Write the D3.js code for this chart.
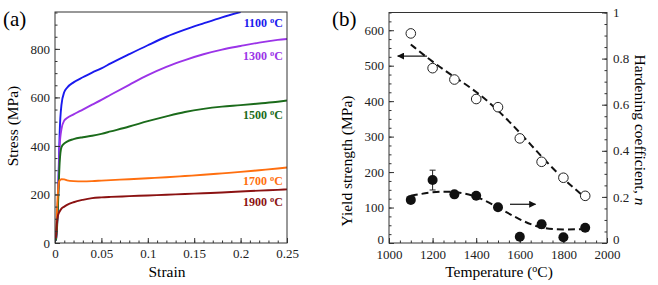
<!DOCTYPE html>
<html>
<head>
<meta charset="utf-8">
<script src="https://cdn.jsdelivr.net/npm/d3@7"></script>
<style>
  body { margin: 0; background: #fff; }
</style>
</head>
<body>
<svg id="chart" width="658" height="285"></svg>
<script>
// ---- panel (a) data: stress-strain curves
const strain = [0.001, 0.002, 0.003, 0.004, 0.005, 0.007, 0.01, 0.013, 0.02, 0.03, 0.04, 0.05, 0.06, 0.08, 0.1, 0.12, 0.14, 0.16, 0.18, 0.2, 0.22, 0.24, 0.25];
const temps = ["1100", "1300", "1500", "1700", "1900"];
const stress1100 = [10, 60, 150, 300, 450, 570, 622, 640, 662, 683, 702, 720, 740, 778, 815, 850, 879, 905, 930, 952, null, null, null];
const stress1300 = [10, 60, 150, 280, 400, 470, 505, 515, 530, 550, 570, 590, 611, 652, 692, 726, 754, 778, 797, 812, 826, 837, 841];
const stress1500 = [10, 50, 130, 240, 330, 395, 410, 418, 428, 436, 442, 450, 460, 480, 502, 522, 540, 553, 562, 568, 575, 582, 587];
const stress1700 = [20, 120, 200, 245, 258, 263, 262, 258, 255, 254, 255, 257, 259, 263, 267, 271, 276, 281, 287, 293, 300, 307, 311];
const stress1900 = [20, 80, 110, 122, 130, 142, 150, 157, 168, 178, 185, 188, 190, 193, 196, 199, 202, 205, 208, 212, 216, 219, 221];
const curveColors = ["#1a1aee", "#9b34e8", "#1b6b1b", "#ff6f0f", "#8b1212"];

// ---- panel (b) data
const temperature = [1100, 1200, 1300, 1400, 1500, 1600, 1700, 1800, 1900];
const yieldStrength = [591, 493, 461, 406, 383, 295, 229, 184, 133];
const hardeningN = [0.187, 0.273, 0.211, 0.205, 0.155, 0.027, 0.081, 0.025, 0.066];
const hardeningErr = [0, 0.043, 0, 0, 0, 0, 0.017, 0, 0];
const yieldFit = [560, 510, 468, 428, 375, 312, 243, 180, 128];
const nFit = [0.205, 0.222, 0.225, 0.205, 0.155, 0.1, 0.062, 0.058, 0.06];

const FONT = "'Liberation Serif', 'Times New Roman', serif";
const svg = d3.select("#chart").attr("font-family", FONT);
const axisColor = "#333";

function styleAxis(g) {
  g.attr("font-family", FONT);
  g.select(".domain").remove();
  g.selectAll("line").attr("stroke", axisColor);
  g.selectAll("text").attr("fill", "#222").attr("font-size", 13).attr("font-family", FONT);
}
function rng(a, b, s) { return d3.range(Math.round(a / s), Math.round(b / s) + 1).map(i => +(i * s).toFixed(4)); }

// =============== panel (a)
const A = { l: 55, r: 287, t: 12, b: 243 };
const xa = d3.scaleLinear().domain([0, 0.25]).range([A.l, A.r]);
const ya = d3.scaleLinear().domain([0, 952]).range([A.b, A.t]);

svg.append("clipPath").attr("id", "clipA").append("rect")
  .attr("x", A.l).attr("y", A.t).attr("width", A.r - A.l).attr("height", A.b - A.t);

const series = [stress1100, stress1300, stress1500, stress1700, stress1900];
const lineA = d3.line()
  .defined(d => d[1] != null)
  .x(d => xa(d[0])).y(d => ya(d[1]))
  .curve(d3.curveMonotoneX);

const gA = svg.append("g").attr("clip-path", "url(#clipA)");
series.forEach((s, i) => {
  gA.append("path")
    .datum(strain.map((e, j) => [e, s[j]]))
    .attr("d", lineA)
    .attr("fill", "none")
    .attr("stroke", curveColors[i])
    .attr("stroke-width", 1.9);
});

// minor / major ticks
svg.append("g").attr("transform", `translate(0,${A.b})`)
  .call(d3.axisBottom(xa).tickValues(rng(0, 0.25, 0.01)).tickSize(-2.5).tickFormat(""))
  .call(styleAxis);
svg.append("g").attr("transform", `translate(0,${A.b})`)
  .call(d3.axisBottom(xa).tickValues(rng(0, 0.25, 0.05)).tickSize(-5).tickPadding(6)
    .tickFormat(d => String(d)))
  .call(styleAxis);
svg.append("g").attr("transform", `translate(${A.l},0)`)
  .call(d3.axisLeft(ya).tickValues(rng(0, 950, 50)).tickSize(-2.5).tickFormat(""))
  .call(styleAxis);
svg.append("g").attr("transform", `translate(${A.l},0)`)
  .call(d3.axisLeft(ya).tickValues(rng(0, 800, 200)).tickSize(-5).tickPadding(5).tickFormat(d3.format("d")))
  .call(styleAxis);

svg.append("rect").attr("x", A.l).attr("y", A.t).attr("width", A.r - A.l).attr("height", A.b - A.t)
  .attr("fill", "none").attr("stroke", axisColor).attr("stroke-width", 1);

// curve labels
const labelY = [27, 60, 119, 185, 206];
temps.forEach((t, i) => {
  const tx = svg.append("text")
    .attr("x", 283).attr("y", labelY[i])
    .attr("text-anchor", "end")
    .attr("fill", curveColors[i])
    .attr("font-size", 12).attr("font-weight", "bold");
  tx.append("tspan").text(t + " ");
  tx.append("tspan").attr("dy", -4).attr("font-size", 8.5).text("o");
  tx.append("tspan").attr("dy", 4).text("C");
});

svg.append("text").attr("x", (A.l + A.r) / 2 - 4).attr("y", 277).attr("text-anchor", "middle")
  .attr("font-size", 15.5).text("Strain");
svg.append("text").attr("transform", `translate(18,126) rotate(-90)`).attr("text-anchor", "middle")
  .attr("font-size", 15.5).text("Stress (MPa)");
svg.append("text").attr("x", 3).attr("y", 26).attr("font-size", 21).text("(a)");

// =============== panel (b)
const B = { l: 389, r: 607, t: 12.5, b: 243 };
const xb = d3.scaleLinear().domain([1000, 2000]).range([B.l, B.r]);
const yb = d3.scaleLinear().domain([0, 650]).range([B.b, B.t]);
const yn = d3.scaleLinear().domain([0, 1]).range([B.b, B.t]);

svg.append("g").attr("transform", `translate(0,${B.b})`)
  .call(d3.axisBottom(xb).tickValues(rng(1000, 2000, 50)).tickSize(-2.5).tickFormat(""))
  .call(styleAxis);
svg.append("g").attr("transform", `translate(0,${B.b})`)
  .call(d3.axisBottom(xb).tickValues(rng(1000, 2000, 200)).tickSize(-5).tickPadding(7).tickFormat(d3.format("d")))
  .call(styleAxis);
svg.append("g").attr("transform", `translate(${B.l},0)`)
  .call(d3.axisLeft(yb).tickValues(rng(0, 650, 25)).tickSize(-2.5).tickFormat(""))
  .call(styleAxis);
svg.append("g").attr("transform", `translate(${B.l},0)`)
  .call(d3.axisLeft(yb).tickValues(rng(0, 600, 100)).tickSize(-5).tickPadding(5).tickFormat(d3.format("d")))
  .call(styleAxis)
  .call(g => g.selectAll(".tick").filter(d => d === 0).select("text").attr("dy", "0.05em"));
svg.append("g").attr("transform", `translate(${B.r},0)`)
  .call(d3.axisRight(yn).tickValues(rng(0, 1, 0.05)).tickSize(-2.5).tickFormat(""))
  .call(styleAxis);
svg.append("g").attr("transform", `translate(${B.r},0)`)
  .call(d3.axisRight(yn).tickValues(rng(0, 1, 0.2)).tickSize(-5).tickPadding(6).tickFormat(d => String(d)))
  .call(styleAxis)
  .call(g => g.selectAll(".tick").filter(d => d === 0).select("text").attr("dy", "0.05em"));

svg.append("rect").attr("x", B.l).attr("y", B.t).attr("width", B.r - B.l).attr("height", B.b - B.t)
  .attr("fill", "none").attr("stroke", axisColor).attr("stroke-width", 1);

// fit lines
const fitLine = d3.line().curve(d3.curveBasis);
svg.append("path")
  .attr("d", fitLine(temperature.map((t, i) => [xb(t), yb(yieldFit[i])])))
  .attr("fill", "none").attr("stroke", "#111").attr("stroke-width", 2).attr("stroke-dasharray", "7,4");
svg.append("path")
  .attr("d", fitLine(temperature.map((t, i) => [xb(t), yn(nFit[i])])))
  .attr("fill", "none").attr("stroke", "#111").attr("stroke-width", 2).attr("stroke-dasharray", "7,4");

// error bars
temperature.forEach((t, i) => {
  if (!hardeningErr[i]) return;
  const x = xb(t), y0 = yn(hardeningN[i] - hardeningErr[i]), y1 = yn(hardeningN[i] + hardeningErr[i]);
  svg.append("line").attr("x1", x).attr("x2", x).attr("y1", y0).attr("y2", y1).attr("stroke", "#222");
  [y0, y1].forEach(y => svg.append("line").attr("x1", x - 3).attr("x2", x + 3).attr("y1", y).attr("y2", y).attr("stroke", "#222"));
});

// markers
svg.append("g").selectAll("circle").data(temperature).join("circle")
  .attr("cx", d => xb(d)).attr("cy", (d, i) => yb(yieldStrength[i])).attr("r", 4.8)
  .attr("fill", "#fff").attr("stroke", "#222").attr("stroke-width", 1);
svg.append("g").selectAll("circle").data(temperature).join("circle")
  .attr("cx", d => xb(d)).attr("cy", (d, i) => yn(hardeningN[i])).attr("r", 5)
  .attr("fill", "#111");

// arrows
svg.append("defs").append("marker").attr("id", "ah")
  .attr("viewBox", "0 0 10 10").attr("refX", 9).attr("refY", 5)
  .attr("markerWidth", 9).attr("markerHeight", 7).attr("markerUnits", "userSpaceOnUse")
  .attr("orient", "auto")
  .append("path").attr("d", "M0,0 L10,5 L0,10 Z").attr("fill", "#111");
svg.append("line").attr("x1", xb(1174)).attr("x2", xb(1040)).attr("y1", yb(527)).attr("y2", yb(527))
  .attr("stroke", "#111").attr("stroke-width", 1.2).attr("marker-end", "url(#ah)");
svg.append("line").attr("x1", xb(1555)).attr("x2", xb(1672)).attr("y1", yn(0.168)).attr("y2", yn(0.168))
  .attr("stroke", "#111").attr("stroke-width", 1.2).attr("marker-end", "url(#ah)");

// labels
const tl = svg.append("text").attr("x", (B.l + B.r) / 2 + 1).attr("y", 277).attr("text-anchor", "middle").attr("font-size", 15.5);
tl.append("tspan").text("Temperature (");
tl.append("tspan").attr("dy", -5).attr("font-size", 10).text("o");
tl.append("tspan").attr("dy", 5).text("C)");
svg.append("text").attr("transform", `translate(352,161) rotate(-90)`).attr("text-anchor", "middle")
  .attr("font-size", 15.5).text("Yield strength (MPa)");
const hl = svg.append("text").attr("transform", `translate(635,130) rotate(90)`).attr("text-anchor", "middle")
  .attr("font-size", 15.5);
hl.append("tspan").text("Hardening coefficient, ");
hl.append("tspan").attr("font-style", "italic").text("n");
svg.append("text").attr("x", 332).attr("y", 26).attr("font-size", 21).text("(b)");
</script>
</body>
</html>
